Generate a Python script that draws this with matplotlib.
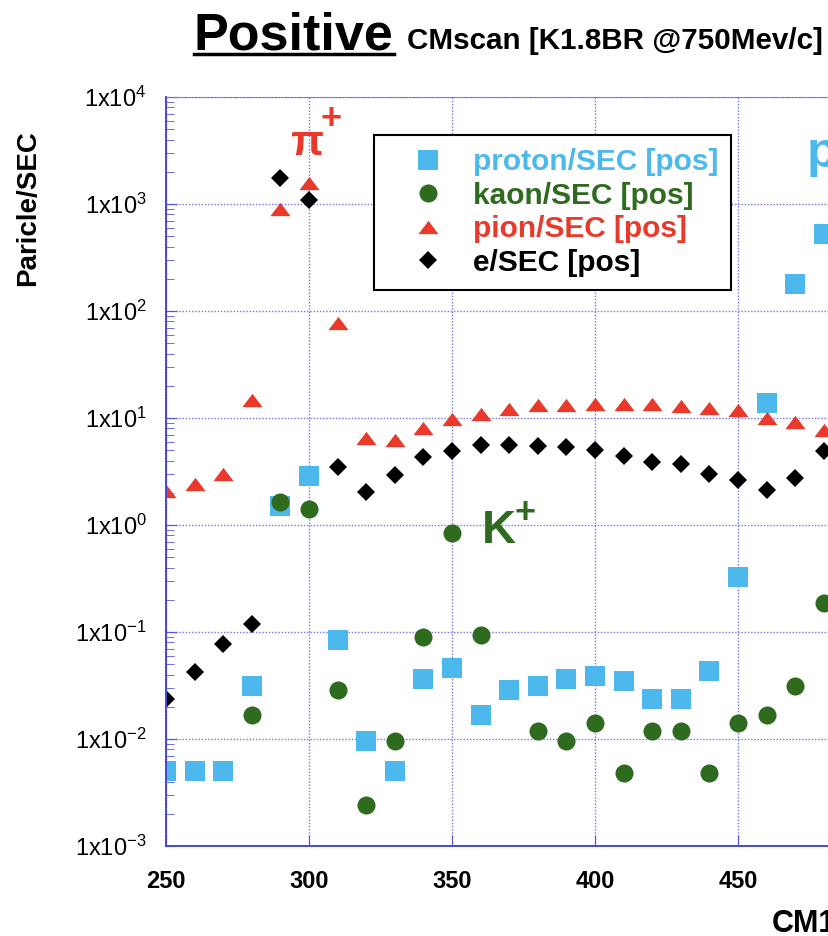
import numpy as np
import matplotlib
matplotlib.use('Agg')
import matplotlib.pyplot as plt
from matplotlib.lines import Line2D
from matplotlib.ticker import FixedLocator, NullFormatter

plt.rcParams['font.family'] = ['Liberation Sans', 'DejaVu Sans']
plt.rcParams['mathtext.default'] = 'regular'

# CM1 scan positions
cm1 = [250, 260, 270, 280, 290, 300, 310, 320, 330, 340, 350, 360,
       370, 380, 390, 400, 410, 420, 430, 440, 450, 460, 470, 480]
# particles per second (positive beam)
proton = [0.005, 0.005, 0.005, 0.031, 1.5, 2.84, 0.085, 0.0095, 0.005, 0.036, 0.0457, 0.0168,
          0.0288, 0.031, 0.036, 0.0385, 0.0345, 0.0239, 0.0239, 0.0429, 0.328, 13.8, 180, 520]
kaon = [np.nan, np.nan, np.nan, 0.0166, 1.65, 1.41, 0.0286, 0.0024, 0.0095, 0.089, 0.836, 0.0946,
        np.nan, 0.012, 0.0095, 0.0142, 0.0048, 0.012, 0.012, 0.0048, 0.0142, 0.0166, 0.0312, 0.185]
pion = [2.1, 2.42, 3.0, 14.7, 900, 1560, 78, 6.5, 6.2, 8.06, 9.85, 10.9,
        12.2, 13.1, 13.2, 13.6, 13.4, 13.5, 12.9, 12.5, 11.8, 10.1, 9.2, 7.8]
elec = [0.0238, 0.0426, 0.0767, 0.12, 1750, 1090, 3.52, 2.02, 2.92, 4.28, 4.94, 5.54,
        5.54, 5.46, 5.34, 4.97, 4.43, 3.87, 3.71, 2.99, 2.66, 2.14, 2.77, 4.94]

c_p = '#4db8ec'
c_k = '#2e6b1f'
c_pi = '#e8392b'
c_e = 'k'
tri = [(-1, -0.66), (1, -0.66), (0, 0.66)]

fig = plt.figure(figsize=(8.29, 9.36), dpi=100)
ax = fig.add_axes([166/829, 90/936, 858/829, 749/936])

ax.plot(cm1, proton, 's', color=c_p, ms=14, mew=0, label='proton/SEC [pos]')
ax.plot(cm1, kaon, 'o', color=c_k, ms=13, mew=0, label='kaon/SEC [pos]')
ax.plot(cm1, pion, marker=tri, ls='none', color=c_pi, ms=14.5, mew=0, label='pion/SEC [pos]')
ax.plot(cm1, elec, 'D', color=c_e, ms=9.6, mew=0, label='e/SEC [pos]')

ax.set_yscale('log')
ax.set_xlim(250, 550)
ax.set_ylim(1e-3, 1e4)
ax.xaxis.set_major_locator(FixedLocator(range(250, 551, 50)))
ax.yaxis.set_major_locator(FixedLocator([10.0**k for k in range(-3, 5)]))
ax.set_yticklabels([r'$\mathregular{1x10^{%d}}$' % k for k in range(-3, 5)])
ax.yaxis.set_minor_locator(FixedLocator([m * 10.0**k for k in range(-3, 4) for m in range(2, 10)]))
ax.yaxis.set_minor_formatter(NullFormatter())

ax.grid(True, which='major', color='#7373ea', ls=(0, (1, 1.3)), lw=1.0)
for s in ['left', 'bottom']:
    ax.spines[s].set_color('#4646dc')
    ax.spines[s].set_linewidth(1.4)
ax.spines['top'].set_color('#7373ea')
ax.spines['top'].set_linestyle((0, (1, 1.3)))
ax.spines['right'].set_visible(False)

ax.tick_params(which='both', direction='in', color='#5555dd', labelcolor='k')
ax.tick_params(axis='y', which='major', length=8, pad=14, labelsize=17)
ax.tick_params(axis='y', which='minor', length=6)
ax.tick_params(axis='x', which='major', length=8, pad=17, labelsize=17)
for lb in ax.get_xticklabels():
    lb.set_fontweight('bold')

ax.set_ylabel('Paricle/SEC', fontsize=20, fontweight='bold', va='center')
ax.yaxis.set_label_coords(28/829, 1 - 208/936, transform=fig.transFigure)
fig.text(772/829, 1 - 932/936, 'CM1', fontsize=22, fontweight='bold', ha='left', va='baseline')

# particle labels
ax.text(293.5, 2870, 'π', color=c_pi, fontsize=31, fontweight='bold', ha='left', va='baseline')
ax.text(307.7, 6180, '+', color=c_pi, fontsize=26, fontweight='bold', ha='center', va='center')
ax.text(360.5, 0.678, 'K', color=c_k, fontsize=34, fontweight='bold', ha='left', va='baseline')
ax.text(375.5, 1.27, '+', color=c_k, fontsize=26, fontweight='bold', ha='center', va='center')
ax.text(474, 2220, 'p', color=c_p, fontsize=36, fontweight='bold', ha='left', va='baseline')

lgd = ax.legend(loc='upper left', bbox_to_anchor=(374/829, 1 - 135/936), bbox_transform=fig.transFigure,
                borderaxespad=0, prop={'size': 21.5, 'weight': 'bold'}, fancybox=False, framealpha=1,
                edgecolor='k', borderpad=0.45, handlelength=2.75, handletextpad=0.1, labelspacing=0.18)
lgd.get_frame().set_linewidth(1.5)
for t, c in zip(lgd.get_texts(), [c_p, c_k, c_pi, c_e]):
    t.set_color(c)

t1 = fig.text(194/829, 1 - 50/936, 'Positive', fontsize=37.5, fontweight='bold', ha='left', va='baseline')
fig.text(407/829, 1 - 49/936, 'CMscan [K1.8BR @750Mev/c]', fontsize=21.3, fontweight='bold',
         ha='left', va='baseline')
fig.canvas.draw()
bb = t1.get_window_extent().transformed(fig.transFigure.inverted())
fig.add_artist(Line2D([bb.x0, bb.x1], [1 - 54/936, 1 - 54/936], color='k', lw=2.5, transform=fig.transFigure))

fig.savefig('out.png', dpi=100)
